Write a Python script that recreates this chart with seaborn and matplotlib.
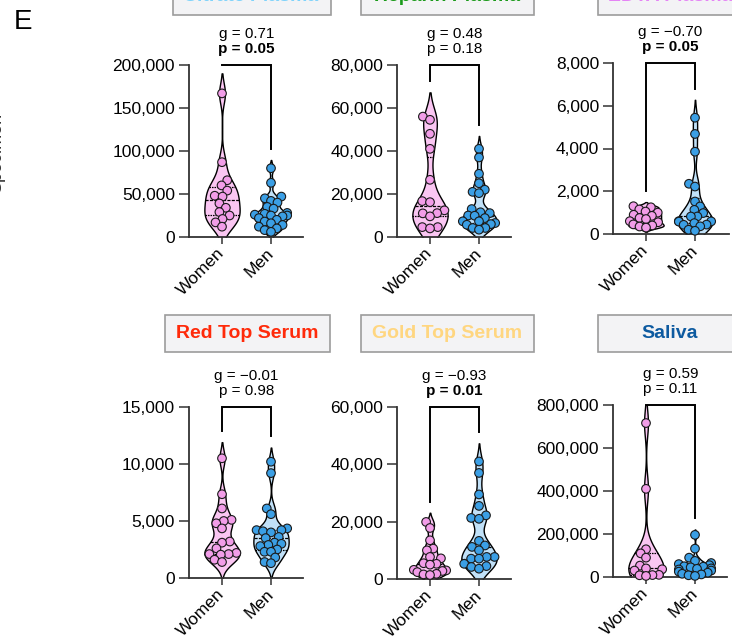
import numpy as np
import pandas as pd
import matplotlib
matplotlib.use("Agg")
import matplotlib.pyplot as plt
from matplotlib.patches import Rectangle
from matplotlib.ticker import FuncFormatter
import seaborn as sns

# ---------------- data ----------------
groups = ["Women", "Men"]
panel_titles = ["Citrate Plasma", "Heparin Plasma", "EDTA Plasma",
                "Red Top Serum", "Gold Top Serum", "Saliva"]
title_colors = ["#7fd3fb", "#1a9a1a", "#e584f5", "#ff2a0a", "#ffd680", "#0d5aa0"]
g_values = ["0.71", "0.48", "\u22120.70", "\u22120.01", "\u22120.93", "0.59"]
p_values = [0.05, 0.18, 0.05, 0.98, 0.01, 0.11]
y_max = [200000, 80000, 8000, 15000, 60000, 800000]
y_step = [50000, 20000, 2000, 5000, 20000, 200000]

citrate_women = [167000, 87000, 66000, 60000, 54000, 48000, 47000, 39000, 34000,
                 29000, 25000, 21000, 17000, 12000]
citrate_men = [80000, 63000, 47000, 45000, 42000, 40000, 35000, 33000, 28000, 27000,
               26000, 25000, 25000, 24000, 22000, 20000, 18000, 16000, 14000, 12000,
               10000, 8000, 6000]
heparin_women = [56000, 54500, 48000, 41000, 26600, 16700, 16200, 12400, 11100,
                 11000, 9600, 4600, 4600, 4000]
heparin_men = [41000, 37000, 29400, 25000, 22000, 21000, 20400, 13000, 11500, 11100,
               10000, 9900, 8800, 7300, 7300, 6500, 6000, 5700, 4200, 4200, 3400]
edta_women = [1300, 1250, 1150, 1050, 1000, 900, 850, 750, 700, 600, 550, 450, 400,
              350, 300]
edta_men = [5440, 4680, 3850, 2350, 2220, 1520, 1290, 1130, 980, 820, 820, 600, 590,
            580, 510, 440, 430, 360, 200, 150]
redtop_women = [10500, 7350, 6100, 5100, 5000, 4800, 4350, 3200, 3100, 2600, 2200,
                2100, 2100, 2050, 1600, 1400]
redtop_men = [10200, 9200, 6100, 5600, 4350, 4200, 4200, 4100, 4000, 3600, 3500,
              3100, 3000, 2900, 2800, 2500, 2300, 2300, 1800, 1400, 1300]
goldtop_women = [19900, 17800, 13500, 10600, 10000, 7700, 7200, 5500, 5300, 5000,
                 3200, 3000, 2800, 2400, 1800, 1600, 1400]
goldtop_men = [41000, 37000, 29500, 25500, 22200, 21300, 21000, 13300, 11700, 11200,
               10000, 7700, 7700, 7100, 7100, 5300, 4500, 4200, 3600]
saliva_women = [716000, 410000, 129000, 110000, 90000, 53000, 40000, 36000, 30000,
                10000, 9000, 8000, 5000]
saliva_men = [196000, 132000, 90000, 75000, 65000, 60000, 55000, 50000, 48000, 45000,
              40000, 38000, 35000, 30000, 25000, 20000, 15000, 12000, 8000, 5000]

panel_data = [
    (citrate_women, citrate_men),
    (heparin_women, heparin_men),
    (edta_women, edta_men),
    (redtop_women, redtop_men),
    (goldtop_women, goldtop_men),
    (saliva_women, saliva_men),
]

# ---------------- layout (pixels) ----------------
W, H = 732, 641
ax_left_px = [189, 397, 613, 189, 397, 613]
ax_right_px = [303, 511, 729, 303, 511, 727]
ax_zero_px = [237, 237, 234, 578, 579, 577]
ax_top_px = [65, 65, 63, 407, 407, 405]
cat_px = 49.0          # pixels between the two categories
first_cat_off = 33.0   # pixels from the y-axis to "Women"
max_half_spread = 0.33  # max horizontal half-spread of the dots (category units)
swarm_pack_size = 4.6   # marker size used to pack the swarm (dots may overlap)
dot_size = 6.2          # marker size actually drawn

box_left_px = [173, 361, 598, 165, 361, 598]
box_right_px = [331, 534, 762, 330, 534, 762]
box_top_px = [-22, -22, -22, 315, 315, 315]
box_bot_px = [15, 15, 15, 352, 352, 352]
box_text_px = [251, 447, 670, 247, 447, 670]

violin_fill = {"Women": "#fac6f2", "Men": "#c1e1f8"}
point_fill = {"Women": "#f29de8", "Men": "#3b9fe5"}

plt.rcParams["font.family"] = ["Liberation Sans", "DejaVu Sans"]
fig = plt.figure(figsize=(W / 100, H / 100), dpi=100)

fmt = FuncFormatter(lambda v, _: f"{v:,.0f}")
swarm_colls = []

for i in range(6):
    women, men = panel_data[i]
    df = pd.DataFrame({
        "group": ["Women"] * len(women) + ["Men"] * len(men),
        "value": list(women) + list(men),
    })
    l, r = ax_left_px[i], ax_right_px[i]
    b, t = ax_zero_px[i], ax_top_px[i]
    ax = fig.add_axes([l / W, 1 - b / H, (r - l) / W, (b - t) / H])

    sns.violinplot(data=df, x="group", y="value", hue="group", order=groups,
                   hue_order=groups, palette=violin_fill, saturation=1,
                   inner="quart", linecolor="black", linewidth=1.0,
                   density_norm="width", width=0.72, bw_adjust=0.5, cut=2,
                   inner_kws=dict(color="black", linewidth=0.9),
                   legend=False, ax=ax)

    # top of each violin (from the drawn shapes)
    tops = {}
    for coll in ax.collections:
        for path in coll.get_paths():
            v = path.vertices
            if len(v) == 0:
                continue
            key = "Women" if np.mean(v[:, 0]) < 0.5 else "Men"
            tops[key] = max(tops.get(key, -np.inf), v[:, 1].max())

    n_before = len(ax.collections)
    sns.swarmplot(data=df, x="group", y="value", hue="group", order=groups,
                  hue_order=groups, palette=point_fill, size=swarm_pack_size,
                  edgecolor="#1a1a1a", linewidth=0.8, legend=False, ax=ax,
                  warn_thresh=1)
    for coll in ax.collections[n_before:]:
        coll.set_clip_on(False)
        coll.set_zorder(4)
        swarm_colls.append(coll)

    xmin = -first_cat_off / cat_px
    xmax = ((r - l) - first_cat_off) / cat_px
    ax.set_xlim(xmin, xmax)
    ax.set_ylim(0, y_max[i])
    ax.set_yticks(np.arange(0, y_max[i] + 1, y_step[i]))
    ax.yaxis.set_major_formatter(fmt)
    ax.set_xticks([0, 1])
    ax.set_xticklabels(groups, rotation=45, ha="right", rotation_mode="anchor",
                       va="center")
    ax.set_xlabel("")
    ax.set_ylabel("")
    ax.tick_params(axis="y", labelsize=12.5, length=7, width=1.1, color="#333333",
                   pad=3)
    ax.tick_params(axis="x", labelsize=12.5, length=5, width=1.1, color="#333333",
                   pad=5)
    for s in ["top", "right"]:
        ax.spines[s].set_visible(False)
    for s in ["left", "bottom"]:
        ax.spines[s].set_linewidth(1.3)
        ax.spines[s].set_color("#333333")
    ax.set_facecolor("none")

    # significance bracket
    yb = y_max[i]
    gap = 0.065 * y_max[i]
    leg_w = min(tops.get("Women", 0) + gap, yb)
    leg_m = min(tops.get("Men", 0) + gap, yb)
    ax.plot([0, 0, 1, 1], [leg_w, yb, yb, leg_m], color="black", lw=1.4,
            clip_on=False, solid_joinstyle="miter")
    bold = p_values[i] <= 0.05
    ax.annotate(f"g = {g_values[i]}", xy=(0.5, yb), xytext=(0, 22.5),
                textcoords="offset points", ha="center", va="center",
                fontsize=11, annotation_clip=False)
    ax.annotate(f"p = {p_values[i]:.2f}", xy=(0.5, yb), xytext=(0, 11.5),
                textcoords="offset points", ha="center", va="center",
                fontsize=11, fontweight="bold" if bold else "normal",
                annotation_clip=False)

    # title box
    bl, br = box_left_px[i], box_right_px[i]
    bt, bb = box_top_px[i], box_bot_px[i]
    fig.patches.append(Rectangle((bl / W, 1 - bb / H), (br - bl) / W, (bb - bt) / H,
                                 transform=fig.transFigure, facecolor="#f3f3f5",
                                 edgecolor="#9c9c9c", linewidth=1.2, zorder=0))
    fig.text(box_text_px[i] / W, 1 - ((bt + bb) / 2) / H, panel_titles[i],
             ha="center", va="center", fontsize=14, fontweight="bold",
             color=title_colors[i])

fig.text(14 / W, 1 - 22 / H, "E", fontsize=20, ha="left", va="center")
fig.text(5 / W, 1 - 153 / H, "Specimen", rotation=90, ha="right", va="center",
         fontsize=13, color="#333333")

# let seaborn compute the swarms with a small packing size, freeze those
# positions, then draw the dots at full size (dots overlap as in the original)
fig.canvas.draw()
for coll in swarm_colls:
    off = np.asarray(coll.get_offsets()).copy()
    if len(off) == 0:
        continue
    center = np.round(np.median(off[:, 0]))
    dev = off[:, 0] - center
    m = np.abs(dev).max()
    if m > max_half_spread:
        off[:, 0] = center + dev * (max_half_spread / m)
    if "draw" in coll.__dict__:
        del coll.__dict__["draw"]
    coll.set_offsets(off)
    coll.set_sizes(np.full(len(off), dot_size ** 2))

fig.savefig("out.png", dpi=100)
